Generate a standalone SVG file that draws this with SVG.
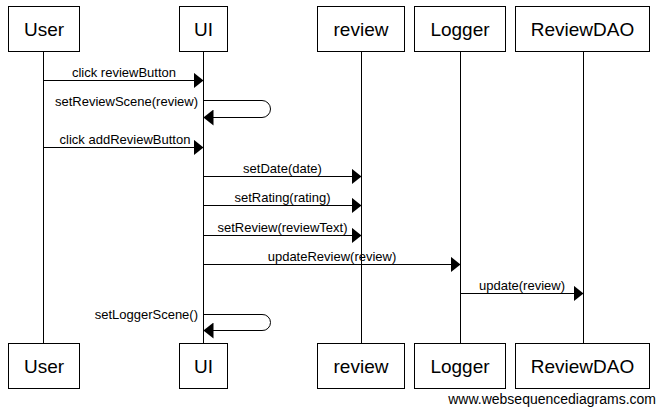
<svg xmlns="http://www.w3.org/2000/svg" width="665" height="409" viewBox="0 0 665 409">
<style>
.box{fill:#fff;stroke:#000;stroke-width:1}
.name{font-family:"Liberation Sans",Arial,sans-serif;font-size:19px;text-anchor:middle;fill:#000}
.life{stroke:#000;stroke-width:1;fill:none}
.msg{stroke:#000;stroke-width:1;fill:none}
.lbl{font-family:"Liberation Sans",Arial,sans-serif;font-size:13px;text-anchor:middle;fill:#000}
.lblr{font-family:"Liberation Sans",Arial,sans-serif;font-size:13px;text-anchor:end;fill:#000}
.foot{font-family:"Liberation Sans",Arial,sans-serif;font-size:14px;text-anchor:end;fill:#000}
</style>
<defs>
<marker id="ah" markerWidth="10" markerHeight="16" refX="10" refY="8" orient="auto" markerUnits="userSpaceOnUse">
<path d="M0,0 L10,8 L0,16 Z" fill="#000"/>
</marker>
</defs>
<g id="lifelines">
<line class="life" x1="43.5" y1="51" x2="43.5" y2="343"/>
<line class="life" x1="203.5" y1="51" x2="203.5" y2="343"/>
<line class="life" x1="361.5" y1="51" x2="361.5" y2="343"/>
<line class="life" x1="460.5" y1="51" x2="460.5" y2="343"/>
<line class="life" x1="583.5" y1="51" x2="583.5" y2="343"/>
</g>
<g id="User">
<rect class="box" x="8.5" y="6.5" width="71" height="45"/>
<text class="name" x="44" y="36">User</text>
<rect class="box" x="8.5" y="343.5" width="71" height="45"/>
<text class="name" x="44" y="373">User</text>
</g>
<g id="UI">
<rect class="box" x="179.5" y="6.5" width="48" height="45"/>
<text class="name" x="203.5" y="36">UI</text>
<rect class="box" x="179.5" y="343.5" width="48" height="45"/>
<text class="name" x="203.5" y="373">UI</text>
</g>
<g id="review">
<rect class="box" x="317.5" y="6.5" width="87" height="45"/>
<text class="name" x="361" y="36">review</text>
<rect class="box" x="317.5" y="343.5" width="87" height="45"/>
<text class="name" x="361" y="373">review</text>
</g>
<g id="Logger">
<rect class="box" x="414.5" y="6.5" width="91" height="45"/>
<text class="name" x="460" y="36">Logger</text>
<rect class="box" x="414.5" y="343.5" width="91" height="45"/>
<text class="name" x="460" y="373">Logger</text>
</g>
<g id="ReviewDAO">
<rect class="box" x="515.5" y="6.5" width="134" height="45"/>
<text class="name" x="582.5" y="36">ReviewDAO</text>
<rect class="box" x="515.5" y="343.5" width="134" height="45"/>
<text class="name" x="582.5" y="373">ReviewDAO</text>
</g>
<g id="connectors">
<line class="msg" x1="43.5" y1="80.5" x2="203.5" y2="80.5" marker-end="url(#ah)"/>
<text class="lbl" x="124" y="77">click reviewButton</text>
<path class="msg" d="M203.5,100.5 H262 A8.5,8.5 0 0 1 270.5,109 A8.5,8.5 0 0 1 262,117.5 H203.5" marker-end="url(#ah)"/>
<text class="lblr" x="198" y="105.5">setReviewScene(review)</text>
<line class="msg" x1="43.5" y1="147.5" x2="203.5" y2="147.5" marker-end="url(#ah)"/>
<text class="lbl" x="125" y="144">click addReviewButton</text>
<line class="msg" x1="203.5" y1="176.5" x2="361.5" y2="176.5" marker-end="url(#ah)"/>
<text class="lbl" x="282.5" y="173">setDate(date)</text>
<line class="msg" x1="203.5" y1="205.5" x2="361.5" y2="205.5" marker-end="url(#ah)"/>
<text class="lbl" x="282.5" y="202">setRating(rating)</text>
<line class="msg" x1="203.5" y1="235.5" x2="361.5" y2="235.5" marker-end="url(#ah)"/>
<text class="lbl" x="282.5" y="232">setReview(reviewText)</text>
<line class="msg" x1="203.5" y1="264.5" x2="460.5" y2="264.5" marker-end="url(#ah)"/>
<text class="lbl" x="332" y="261">updateReview(review)</text>
<line class="msg" x1="460.5" y1="293.5" x2="583.5" y2="293.5" marker-end="url(#ah)"/>
<text class="lbl" x="522" y="290">update(review)</text>
<path class="msg" d="M203.5,314.5 H262 A8,8 0 0 1 270.5,322.5 A8,8 0 0 1 262,330.5 H203.5" marker-end="url(#ah)"/>
<text class="lblr" x="198" y="319">setLoggerScene()</text>
</g>
<text class="foot" x="656" y="404">www.websequencediagrams.com</text>
</svg>
